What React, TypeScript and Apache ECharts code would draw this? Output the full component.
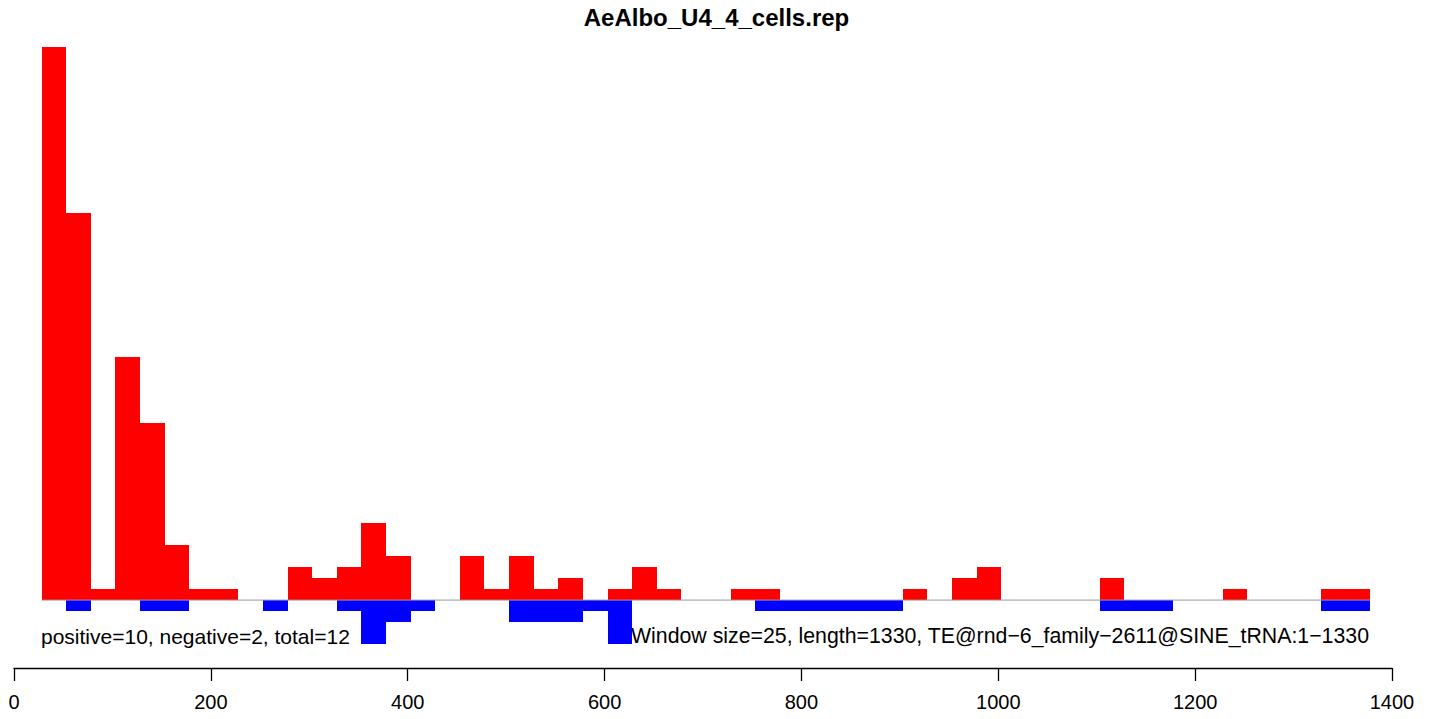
import React, { useEffect, useRef } from "react";
import * as echarts from "echarts";

const title = "AeAlbo_U4_4_cells.rep";
const windowSize = 25;
const firstWindowStart = 28;
const positiveCounts = [
  50, 35, 1, 22, 16, 5, 1, 1, 0, 0,
  3, 2, 3, 7, 4, 0, 0, 4, 1, 4,
  1, 2, 0, 1, 3, 1, 0, 0, 1, 1,
  0, 0, 0, 0, 0, 1, 0, 2, 3, 0,
  0, 0, 0, 2, 0, 0, 0, 0, 1, 0,
  0, 0, 1, 1,
];
const negativeCounts = [
  0, 1, 0, 0, 1, 1, 0, 0, 0, 1,
  0, 0, 1, 4, 2, 1, 0, 0, 0, 2,
  2, 2, 1, 4, 0, 0, 0, 0, 0, 1,
  1, 1, 1, 1, 1, 0, 0, 0, 0, 0,
  0, 0, 0, 1, 1, 1, 0, 0, 0, 0,
  0, 0, 1, 1,
];
const xTicks = [0, 200, 400, 600, 800, 1000, 1200, 1400];
const leftText = "positive=10, negative=2, total=12";
const rightText = "Window size=25, length=1330, TE@rnd\u22126_family\u22122611@SINE_tRNA:1\u22121330";

const FONT = "'Liberation Sans', Arial, Helvetica, sans-serif";

function buildBars(counts: number[], sign: number) {
  const out: number[][] = [];
  counts.forEach((c, i) => {
    if (c !== 0) {
      const s = firstWindowStart + i * windowSize;
      out.push([s, s + windowSize, sign * c]);
    }
  });
  return out;
}

function rectRenderer(color: string) {
  return (params: any, api: any) => {
    const x0 = api.value(0);
    const x1 = api.value(1);
    const v = api.value(2);
    const p0 = api.coord([x0, 0]);
    const p1 = api.coord([x1, v]);
    const left = Math.round(p0[0]);
    const right = Math.round(p1[0]);
    const top = Math.round(Math.min(p0[1], p1[1]));
    const bottom = Math.round(Math.max(p0[1], p1[1]));
    return {
      type: "rect",
      shape: { x: left, y: top, width: right - left, height: bottom - top },
      style: { fill: color },
    };
  };
}

export default function App() {
  const ref = useRef<HTMLDivElement>(null);
  useEffect(() => {
    if (!ref.current) return;
    const chart = echarts.init(ref.current, null, { renderer: "svg" });
    const nBins = positiveCounts.length;
    const lineStart = firstWindowStart;
    const lineEnd = firstWindowStart + nBins * windowSize;
    chart.setOption({
      animation: false,
      backgroundColor: "#ffffff",
      title: {
        text: title,
        left: "center",
        top: 0,
        textStyle: { fontFamily: FONT, fontSize: 24, fontWeight: "bold", color: "#000" },
      },
      grid: { left: 14, right: 41, top: 47, bottom: 51 },
      xAxis: {
        type: "value",
        min: xTicks[0],
        max: xTicks[xTicks.length - 1],
        interval: 200,
        splitLine: { show: false },
        axisLine: { show: true, onZero: false, lineStyle: { color: "#000", width: 1.3 } },
        axisTick: { show: true, inside: false, length: 13, lineStyle: { color: "#000", width: 1.3 } },
        axisLabel: {
          fontFamily: FONT,
          fontSize: 20,
          color: "#000",
          margin: 24,
          formatter: (v: number) => String(v),
        },
      },
      yAxis: {
        type: "value",
        min: -6.14,
        max: 50,
        show: false,
        splitLine: { show: false },
      },
      series: [
        {
          type: "custom",
          renderItem: rectRenderer("#ff0000"),
          data: buildBars(positiveCounts, 1),
          encode: { x: [0, 1], y: 2 },
          silent: true,
        },
        {
          type: "custom",
          renderItem: rectRenderer("#0000ff"),
          data: buildBars(negativeCounts, -1),
          encode: { x: [0, 1], y: 2 },
          silent: true,
        },
        {
          type: "line",
          data: [
            [lineStart, 0],
            [lineEnd, 0],
          ],
          symbol: "none",
          lineStyle: { color: "#999999", width: 1 },
          silent: true,
          z: 3,
        },
      ],
      graphic: [
        {
          type: "text",
          x: 41,
          y: 636,
          style: {
            text: leftText,
            font: `21px ${FONT}`,
            fill: "#000",
            textAlign: "left",
            textVerticalAlign: "middle",
          },
        },
        {
          type: "text",
          x: 1369,
          y: 636,
          style: {
            text: rightText,
            font: `21.3px ${FONT}`,
            fill: "#000",
            textAlign: "right",
            textVerticalAlign: "middle",
          },
        },
      ],
    });
    return () => chart.dispose();
  }, []);
  return (
    <div
      ref={ref}
      style={{ position: "absolute", left: 0, top: 0, width: 1433, height: 719 }}
    />
  );
}
